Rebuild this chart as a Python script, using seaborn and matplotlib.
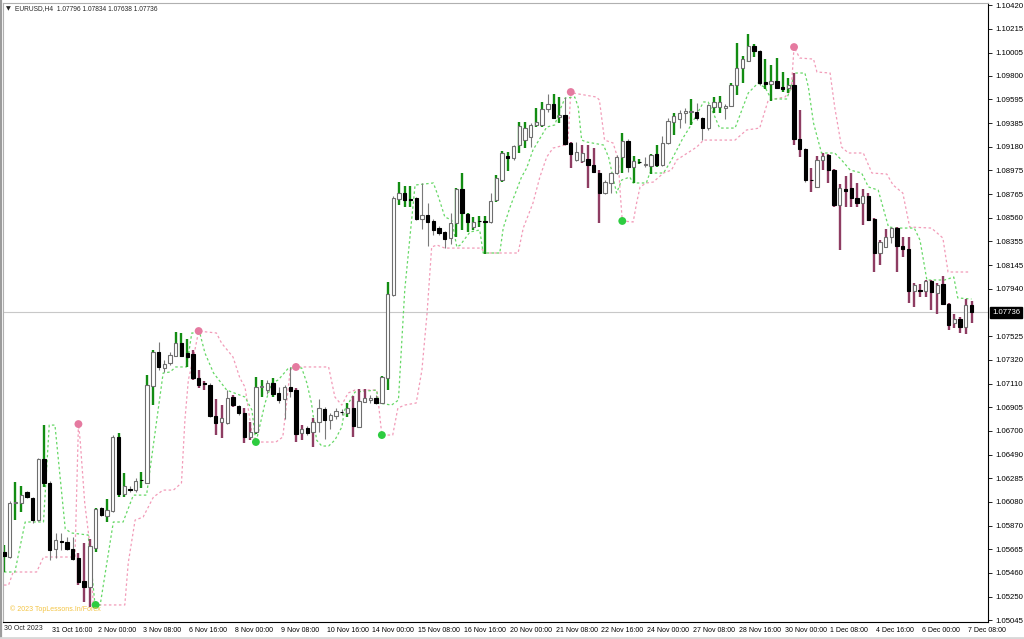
import numpy as np
import pandas as pd
import matplotlib
matplotlib.use("Agg")
import matplotlib.pyplot as plt
from matplotlib.transforms import ScaledTranslation
from matplotlib.lines import Line2D
import seaborn as sns

# ---------------- data (EURUSD H4) ----------------
opens = [1.05640, 1.05596, 1.06068, 1.06068, 1.06164, 1.06111, 1.05919, 1.06452, 1.06243, 1.05665,
         1.05735, 1.05727, 1.05665, 1.05587, 1.05386, 1.05334, 1.05674, 1.06024, 1.05955, 1.05998,
         1.06645, 1.06146, 1.06190, 1.06181, 1.06269, 1.06243, 1.07090, 1.07388, 1.07248, 1.07292,
         1.07353, 1.07466, 1.07379, 1.07370, 1.07160, 1.07117, 1.07099, 1.06829, 1.06776, 1.06767,
         1.06994, 1.06916, 1.06855, 1.06645, 1.06688, 1.07081, 1.07055, 1.07117, 1.07029, 1.06976,
         1.07081, 1.07055, 1.06680, 1.06723, 1.06688, 1.06776, 1.06890, 1.06793, 1.06829, 1.06864,
         1.06855, 1.06898, 1.06732, 1.06951, 1.06968, 1.06985, 1.06942, 1.07160, 1.07885, 1.08724,
         1.08777, 1.08724, 1.08733, 1.08550, 1.08585, 1.08533, 1.08471, 1.08437, 1.08384, 1.08515,
         1.08812, 1.08594, 1.08480, 1.08533, 1.08533, 1.08524, 1.08716, 1.08891, 1.09101, 1.09083,
         1.09197, 1.09240, 1.09267, 1.09372, 1.09372, 1.09511, 1.09555, 1.09441, 1.09459, 1.09214,
         1.09066, 1.09057, 1.09075, 1.09022, 1.08952, 1.08777, 1.08865, 1.08952, 1.09092, 1.09232,
         1.09005, 1.09048, 1.09022, 1.09013, 1.09118, 1.09022, 1.09214, 1.09398, 1.09424, 1.09476,
         1.09485, 1.09485, 1.09433, 1.09345, 1.09529, 1.09529, 1.09520, 1.09538, 1.09721, 1.09870,
         1.09931, 1.10062, 1.10019, 1.09747, 1.09730, 1.09756, 1.09704, 1.09695, 1.09721, 1.09249,
         1.09162, 1.08891, 1.08830, 1.09066, 1.09110, 1.08978, 1.08672, 1.08812, 1.08821, 1.08733,
         1.08690, 1.08751, 1.08550, 1.08253, 1.08305, 1.08393, 1.08471, 1.08314, 1.08288, 1.07920,
         1.07929, 1.07920, 1.08008, 1.07903, 1.07982, 1.07807, 1.07641, 1.07676, 1.07606, 1.07796]
highs = [1.05700, 1.06085, 1.06252, 1.06217, 1.06172, 1.06120, 1.06461, 1.06749, 1.06260, 1.05806,
         1.05806, 1.05771, 1.05771, 1.05631, 1.05718, 1.05753, 1.06024, 1.06033, 1.06102, 1.06662,
         1.06680, 1.06330, 1.06217, 1.06286, 1.06339, 1.07186, 1.07405, 1.07475, 1.07318, 1.07388,
         1.07563, 1.07554, 1.07501, 1.07405, 1.07230, 1.07134, 1.07117, 1.06976, 1.06924, 1.07055,
         1.07011, 1.06924, 1.06898, 1.06776, 1.07169, 1.07143, 1.07143, 1.07160, 1.07081, 1.07099,
         1.07257, 1.07073, 1.06749, 1.06741, 1.06811, 1.06976, 1.06907, 1.06855, 1.06898, 1.06890,
         1.06942, 1.07003, 1.07064, 1.07064, 1.07011, 1.07011, 1.07178, 1.08000, 1.08751, 1.08874,
         1.08839, 1.08839, 1.08742, 1.08865, 1.08690, 1.08550, 1.08489, 1.08445, 1.08603, 1.08821,
         1.08952, 1.08603, 1.08568, 1.08576, 1.08576, 1.08777, 1.08934, 1.09144, 1.09136, 1.09197,
         1.09398, 1.09398, 1.09389, 1.09520, 1.09573, 1.09643, 1.09643, 1.09616, 1.09616, 1.09223,
         1.09223, 1.09197, 1.09197, 1.09170, 1.08978, 1.08891, 1.08961, 1.09110, 1.09302, 1.09249,
         1.09101, 1.09075, 1.09092, 1.09118, 1.09197, 1.09275, 1.09433, 1.09476, 1.09503, 1.09520,
         1.09599, 1.09564, 1.09441, 1.09555, 1.09616, 1.09625, 1.09555, 1.09738, 1.10088, 1.09975,
         1.10167, 1.10079, 1.10027, 1.09948, 1.09896, 1.09957, 1.09835, 1.09782, 1.09826, 1.09503,
         1.09170, 1.08996, 1.09101, 1.09127, 1.09118, 1.08985, 1.08856, 1.08926, 1.08952, 1.08865,
         1.08812, 1.08777, 1.08559, 1.08366, 1.08463, 1.08480, 1.08478, 1.08393, 1.08393, 1.07990,
         1.07982, 1.08017, 1.08017, 1.07990, 1.08052, 1.07816, 1.07720, 1.07693, 1.07851, 1.07834]
lows = [1.05465, 1.05587, 1.05919, 1.05990, 1.06111, 1.05893, 1.05910, 1.06208, 1.05570, 1.05587,
        1.05657, 1.05657, 1.05570, 1.05351, 1.05203, 1.05159, 1.05640, 1.05955, 1.05902, 1.05990,
        1.06120, 1.06120, 1.06164, 1.06164, 1.06199, 1.06234, 1.06924, 1.07230, 1.07213, 1.07274,
        1.07344, 1.07344, 1.07257, 1.07143, 1.07073, 1.07055, 1.06820, 1.06662, 1.06636, 1.06758,
        1.06907, 1.06837, 1.06592, 1.06618, 1.06671, 1.06994, 1.07020, 1.06994, 1.06942, 1.06802,
        1.06994, 1.06601, 1.06618, 1.06662, 1.06557, 1.06688, 1.06627, 1.06715, 1.06802, 1.06837,
        1.06820, 1.06645, 1.06723, 1.06942, 1.06942, 1.06933, 1.06933, 1.07055, 1.07877, 1.08672,
        1.08655, 1.08655, 1.08541, 1.08463, 1.08314, 1.08410, 1.08410, 1.08296, 1.08331, 1.08393,
        1.08454, 1.08437, 1.08454, 1.08480, 1.08244, 1.08515, 1.08698, 1.08873, 1.08969, 1.09066,
        1.09127, 1.09170, 1.09179, 1.09354, 1.09354, 1.09485, 1.09424, 1.09389, 1.09197, 1.08996,
        1.09057, 1.09040, 1.08821, 1.08952, 1.08515, 1.08768, 1.08777, 1.08943, 1.08952, 1.08961,
        1.08865, 1.09031, 1.09005, 1.08943, 1.09005, 1.09013, 1.09210, 1.09284, 1.09345, 1.09389,
        1.09372, 1.09415, 1.09240, 1.09328, 1.09476, 1.09476, 1.09424, 1.09529, 1.09634, 1.09738,
        1.09922, 1.09966, 1.09721, 1.09686, 1.09581, 1.09686, 1.09660, 1.09651, 1.09197, 1.09092,
        1.08873, 1.08786, 1.08821, 1.08978, 1.08865, 1.08655, 1.08279, 1.08655, 1.08655, 1.08655,
        1.08498, 1.08533, 1.08087, 1.08148, 1.08300, 1.08340, 1.08087, 1.08218, 1.07816, 1.07781,
        1.07868, 1.07868, 1.07755, 1.07720, 1.07798, 1.07580, 1.07597, 1.07554, 1.07545, 1.07638]
closes = [1.05605, 1.06068, 1.06077, 1.06137, 1.06120, 1.05919, 1.06452, 1.06243, 1.05657, 1.05744,
          1.05727, 1.05665, 1.05579, 1.05378, 1.05334, 1.05692, 1.06015, 1.05963, 1.06007, 1.06645,
          1.06146, 1.06217, 1.06185, 1.06260, 1.06265, 1.07099, 1.07388, 1.07257, 1.07283, 1.07361,
          1.07466, 1.07353, 1.07344, 1.07160, 1.07099, 1.07108, 1.06829, 1.06767, 1.06811, 1.06985,
          1.06924, 1.06855, 1.06645, 1.06688, 1.07081, 1.07090, 1.07117, 1.07020, 1.06968, 1.07081,
          1.07046, 1.06671, 1.06715, 1.06680, 1.06776, 1.06898, 1.06793, 1.06837, 1.06872, 1.06860,
          1.06898, 1.06741, 1.06959, 1.06985, 1.06985, 1.06942, 1.07169, 1.07894, 1.08733, 1.08777,
          1.08716, 1.08720, 1.08550, 1.08585, 1.08524, 1.08454, 1.08428, 1.08375, 1.08515, 1.08812,
          1.08603, 1.08524, 1.08524, 1.08530, 1.08528, 1.08707, 1.08908, 1.09127, 1.09083, 1.09188,
          1.09363, 1.09345, 1.09372, 1.09398, 1.09511, 1.09555, 1.09433, 1.09459, 1.09205, 1.09118,
          1.09136, 1.09127, 1.09022, 1.08961, 1.08777, 1.08873, 1.08952, 1.09092, 1.09232, 1.09005,
          1.09057, 1.09045, 1.09031, 1.09110, 1.09022, 1.09214, 1.09407, 1.09450, 1.09476, 1.09494,
          1.09490, 1.09433, 1.09345, 1.09546, 1.09573, 1.09573, 1.09538, 1.09721, 1.09870, 1.09948,
          1.10062, 1.10019, 1.09738, 1.09730, 1.09756, 1.09695, 1.09686, 1.09721, 1.09249, 1.09162,
          1.08891, 1.08887, 1.09066, 1.09101, 1.08978, 1.08672, 1.08821, 1.08795, 1.08733, 1.08690,
          1.08751, 1.08541, 1.08253, 1.08349, 1.08393, 1.08471, 1.08314, 1.08288, 1.07920, 1.07973,
          1.07925, 1.08008, 1.07912, 1.07973, 1.07807, 1.07623, 1.07676, 1.07606, 1.07798, 1.07736]
# histogram colour of each bar: g = up trend, r = down trend, n = none
bar_trend = ("gnggnnngnn" "nnnrrrgngn" "ggnngggnnn" "gggrrrnrrn" "rnrrggngnn"
             "nrrnrnnnnn" "grrrnnggng" "ggnnnnnnng" "gggggngggn" "ggnggnggnr"
             "nrrrrnnngn" "ggnggnngnn" "gnnnggnggg" "ggngggggrr" "nrrrrrrrrr"
             "rrrrrnrrrr" "rrrrrrrrrr")

# trailing lines of the indicator (bar position, price)
green_x = [0, 1.9, 3.7, 6.9, 7.9, 8.9, 10.7, 11.8, 14.7, 15.9, 16.8, 19.1, 20.8, 22.6, 24.9, 27.8, 29, 30,
           31.9, 32.8, 34.2, 35.1, 36.6, 38.9, 42.1, 43.3, 44, 44.4, 45.6, 46.8, 47.9, 49.7, 52, 52.9,
           53.7, 54.6, 55.5, 56.7, 57.8, 59, 59.5, 61.3, 65.1, 65.4, 67.7, 68.9, 70, 71.8, 75, 75.9, 77,
           78.2, 79.1, 79.7, 81.4, 83.1, 83.7, 86.6, 87.2, 88.4, 90.4, 91.3, 92.4, 94.8, 96.2, 97.1, 98,
           99.7, 100.3, 100.9, 101.8, 104.7, 105.6, 107, 107.9, 109.3, 109.9, 112.2, 112.8, 115.2, 116.6,
           118.6, 119.8, 122.2, 123, 123.9, 125, 127.7, 130, 131.7, 133, 134, 136.7, 137.3, 138.1, 139.9,
           140.5, 141.4, 142.8, 145.1, 146.3, 147.8, 149.8, 151, 152.7, 154.5, 156.2, 159, 160, 161.2,
           164.3, 165.9, 166.6, 169]
green_y = [1.05465, 1.05465, 1.05902, 1.05902, 1.06749, 1.06749, 1.05841, 1.05806, 1.05788, 1.05177,
           1.05177, 1.05902, 1.05902, 1.06137, 1.06137, 1.07204, 1.07213, 1.07257, 1.07257, 1.07554,
           1.07554, 1.07379, 1.07204, 1.07055, 1.06994, 1.06881, 1.06601, 1.06680, 1.06942, 1.07117,
           1.07143, 1.07248, 1.07248, 1.07117, 1.06942, 1.06618, 1.06566, 1.06566, 1.06618, 1.06732,
           1.06881, 1.07038, 1.07055, 1.06942, 1.06924, 1.06968, 1.07929, 1.08847, 1.08865, 1.08742,
           1.08568, 1.08541, 1.08305, 1.08323, 1.08437, 1.08454, 1.08253, 1.08253, 1.08471, 1.08655,
           1.08917, 1.08996, 1.09153, 1.09354, 1.09372, 1.09503, 1.09607, 1.09616, 1.09529, 1.09240,
           1.09223, 1.09197, 1.09092, 1.08777, 1.08891, 1.08917, 1.08865, 1.08865, 1.08952, 1.08952,
           1.09066, 1.09258, 1.09354, 1.09573, 1.09573, 1.09476, 1.09345, 1.09345, 1.09651, 1.09738,
           1.09695, 1.09599, 1.09599, 1.09677, 1.09826, 1.09826, 1.09704, 1.09389, 1.09127, 1.09127,
           1.09066, 1.08978, 1.08952, 1.08830, 1.08803, 1.08480, 1.08471, 1.08471, 1.08366, 1.08017,
           1.08017, 1.08043, 1.07860, 1.07851]
pink_x = [0, 0.8, 1.6, 5.7, 6.9, 12.4, 13, 13.3, 14.1, 14.9, 15.6, 21.1, 21.7, 22.9, 24.3, 26.1, 27.8,
          29.6, 31, 31.6, 32.2, 33, 34, 35.4, 37.1, 38, 40, 41.2, 42.1, 43.3, 44, 47.5, 48.7, 50, 51, 56.7,
          57.8, 59, 60.1, 61.3, 65.1, 65.4, 66, 67.9, 68.8, 70, 72, 73, 73.9, 74.7, 75.6, 77, 83.4, 83.9,
          89.8, 90.7, 92.4, 93.6, 94.8, 95.9, 98, 98.5, 99, 99.4, 103.5, 104, 104.9, 106.4, 107.3, 107.6,
          108, 109.9, 110.5, 111.1, 112.2, 113.4, 115.2, 116.6, 117.5, 121, 122.2, 127.7, 129.7, 132,
          133.5, 136.4, 137.5, 138, 139, 141.4, 142, 144.3, 145.1, 146.3, 147.5, 150.1, 151.6, 154.2,
          155.3, 157, 158.2, 162, 164, 164.9, 168.7]
pink_y = [1.05351, 1.05351, 1.05465, 1.05465, 1.05596, 1.05596, 1.06758, 1.06618, 1.06068, 1.05744,
          1.05177, 1.05177, 1.05544, 1.05919, 1.05945, 1.06120, 1.06181, 1.06181, 1.06243, 1.06793,
          1.07143, 1.07318, 1.07571, 1.07563, 1.07554, 1.07466, 1.07344, 1.07160, 1.07081, 1.06680,
          1.06601, 1.06601, 1.06645, 1.07230, 1.07257, 1.07257, 1.06994, 1.06924, 1.07029, 1.07055,
          1.07055, 1.06942, 1.06662, 1.06662, 1.06898, 1.06924, 1.06942, 1.07230, 1.07728, 1.08305,
          1.08323, 1.08296, 1.08296, 1.08253, 1.08253, 1.08471, 1.08690, 1.08917, 1.09092, 1.09170,
          1.09197, 1.09214, 1.09660, 1.09651, 1.09616, 1.09590, 1.09240, 1.09214, 1.09066, 1.08803,
          1.08533, 1.08524, 1.08690, 1.08830, 1.08865, 1.08873, 1.08952, 1.08978, 1.09066, 1.09179,
          1.09240, 1.09240, 1.09328, 1.09345, 1.09590, 1.09616, 1.09677, 1.10053, 1.09957, 1.09948,
          1.09835, 1.09826, 1.09529, 1.09179, 1.09127, 1.09127, 1.08952, 1.08943, 1.08847, 1.08777,
          1.08480, 1.08471, 1.08384, 1.08087, 1.08087]
sell_bars = [13, 34, 51, 99, 138]
sell_prices = [1.06758, 1.07571, 1.07257, 1.09660, 1.10053]
buy_bars = [16, 44, 66, 108]
buy_prices = [1.05177, 1.06601, 1.06662, 1.08533]

x_tick_bars = list(range(8, 169, 8))
x_tick_labels = ["31 Oct 16:00", "2 Nov 00:00", "3 Nov 08:00", "6 Nov 16:00", "8 Nov 00:00",
                 "9 Nov 08:00", "10 Nov 16:00", "14 Nov 00:00", "15 Nov 08:00", "16 Nov 16:00",
                 "20 Nov 00:00", "21 Nov 08:00", "22 Nov 16:00", "24 Nov 00:00", "27 Nov 08:00",
                 "28 Nov 16:00", "30 Nov 00:00", "1 Dec 08:00", "4 Dec 16:00", "6 Dec 00:00",
                 "7 Dec 08:00"]
first_label = "30 Oct 2023"
y_ticks = [1.10420, 1.10215, 1.10005, 1.09800, 1.09595, 1.09385, 1.09180, 1.08975, 1.08765,
           1.08560, 1.08355, 1.08145, 1.07940, 1.07525, 1.07320, 1.07110, 1.06905, 1.06700,
           1.06490, 1.06285, 1.06080, 1.05870, 1.05665, 1.05460, 1.05250, 1.05045]
last_price = 1.07736
title = "EURUSD,H4  1.07796 1.07834 1.07638 1.07736"
watermark = "© 2023 TopLessons.In/Forex"

# ---------------- drawing ----------------
sns.set_style("white")
plt.rcParams['font.family'] = ['Liberation Sans', 'DejaVu Sans']

W, H = 1024, 639
fig = plt.figure(figsize=(W / 100, H / 100), dpi=100)
ax = fig.add_axes([3 / W, 17 / H, 985 / W, 619 / H])

n = len(opens)
df = pd.DataFrame({"bar": np.arange(n), "open": opens, "high": highs, "low": lows,
                   "close": closes, "trend": list(bar_trend)})

ax.axhline(last_price, color="#c8c8c8", lw=0.8, zorder=0)

sns.lineplot(x=pink_x, y=pink_y, ax=ax, color="#f29bb8", linewidth=0.9,
             linestyle=(0, (2, 2)), estimator=None, sort=False, zorder=1)
sns.lineplot(x=green_x, y=green_y, ax=ax, color="#66d866", linewidth=0.9,
             linestyle=(0, (2, 2)), estimator=None, sort=False, zorder=1)

wick_col = {"g": "#128c12", "r": "#8e3c62", "n": "#7a7a7a"}
wick_lw = {"g": 1.7, "r": 1.7, "n": 0.8}
for t in "ngr":
    sub = df[df.trend == t]
    ax.vlines(sub.bar, sub.low, sub.high, color=wick_col[t], lw=wick_lw[t], zorder=2)

bull = df[df.close >= df.open]
bear = df[df.close < df.open]
ax.bar(bull.bar, (bull.close - bull.open).clip(lower=0.00003), bottom=bull.open, width=0.58,
       color="white", edgecolor="#6e6e6e", linewidth=0.8, zorder=3)
ax.bar(bear.bar, (bear.open - bear.close).clip(lower=0.00003), bottom=bear.close, width=0.58,
       color="black", edgecolor="black", linewidth=0.8, zorder=3)

sns.scatterplot(x=sell_bars, y=sell_prices, ax=ax, color="#e57aa0", s=32, edgecolor="none", zorder=5)
sns.scatterplot(x=buy_bars, y=buy_prices, ax=ax, color="#2ecc40", s=32, edgecolor="none", zorder=5)

ax.set_xlim(-0.175, 171.88)
ax.set_ylim(1.05028, 1.10438)

# axes styling
for side in ["left", "top"]:
    ax.spines[side].set_color("#b0b0b0")
    ax.spines[side].set_linewidth(0.8)
for side in ["right", "bottom"]:
    ax.spines[side].set_color("black")
    ax.spines[side].set_linewidth(0.8)

ax.yaxis.tick_right()
ax.set_yticks(y_ticks)
ax.set_yticklabels([f"{v:.5f}" for v in y_ticks])
ax.tick_params(axis="y", direction="out", length=3, width=0.6, pad=2, labelsize=5.6, colors="black")

ax.set_xticks(x_tick_bars)
ax.set_xticklabels(x_tick_labels, ha="left")
ax.tick_params(axis="x", direction="out", length=3, width=0.6, pad=0.8, labelsize=5.0, colors="black")
for lab in ax.get_xticklabels():
    lab.set_transform(lab.get_transform() + ScaledTranslation(2 / 100, 0, fig.dpi_scale_trans))
ax.text(0.0015, -3.2 / 619, first_label, transform=ax.transAxes, ha="left", va="top", fontsize=5.0)
ax.set_xlabel("")
ax.set_ylabel("")

# current price box
ax.annotate(f"{last_price:.5f}", xy=(1, last_price), xycoords=("axes fraction", "data"),
            xytext=(3, 0), textcoords="offset points", ha="left", va="center", fontsize=5.6,
            color="white", bbox=dict(boxstyle="square,pad=0.25", fc="black", ec="black"))

# title and watermark
fig.text(6 / W, 1 - 9 / H, "▼", fontsize=4.5, va="center", ha="left", family="DejaVu Sans")
fig.text(15 / W, 1 - 9 / H, title, fontsize=4.8, va="center", ha="left")
fig.text(10 / W, 1 - 609 / H, watermark, fontsize=5.0, va="center", ha="left", color="#f3c443")

fig.add_artist(Line2D([1.2 / W, 1.2 / W], [0, 1], color="#9c9c9c", lw=1.6))
fig.add_artist(Line2D([0, 1], [1.5 / H, 1.5 / H], color="#d8d8d8", lw=2))

fig.savefig("out.png", dpi=100)
